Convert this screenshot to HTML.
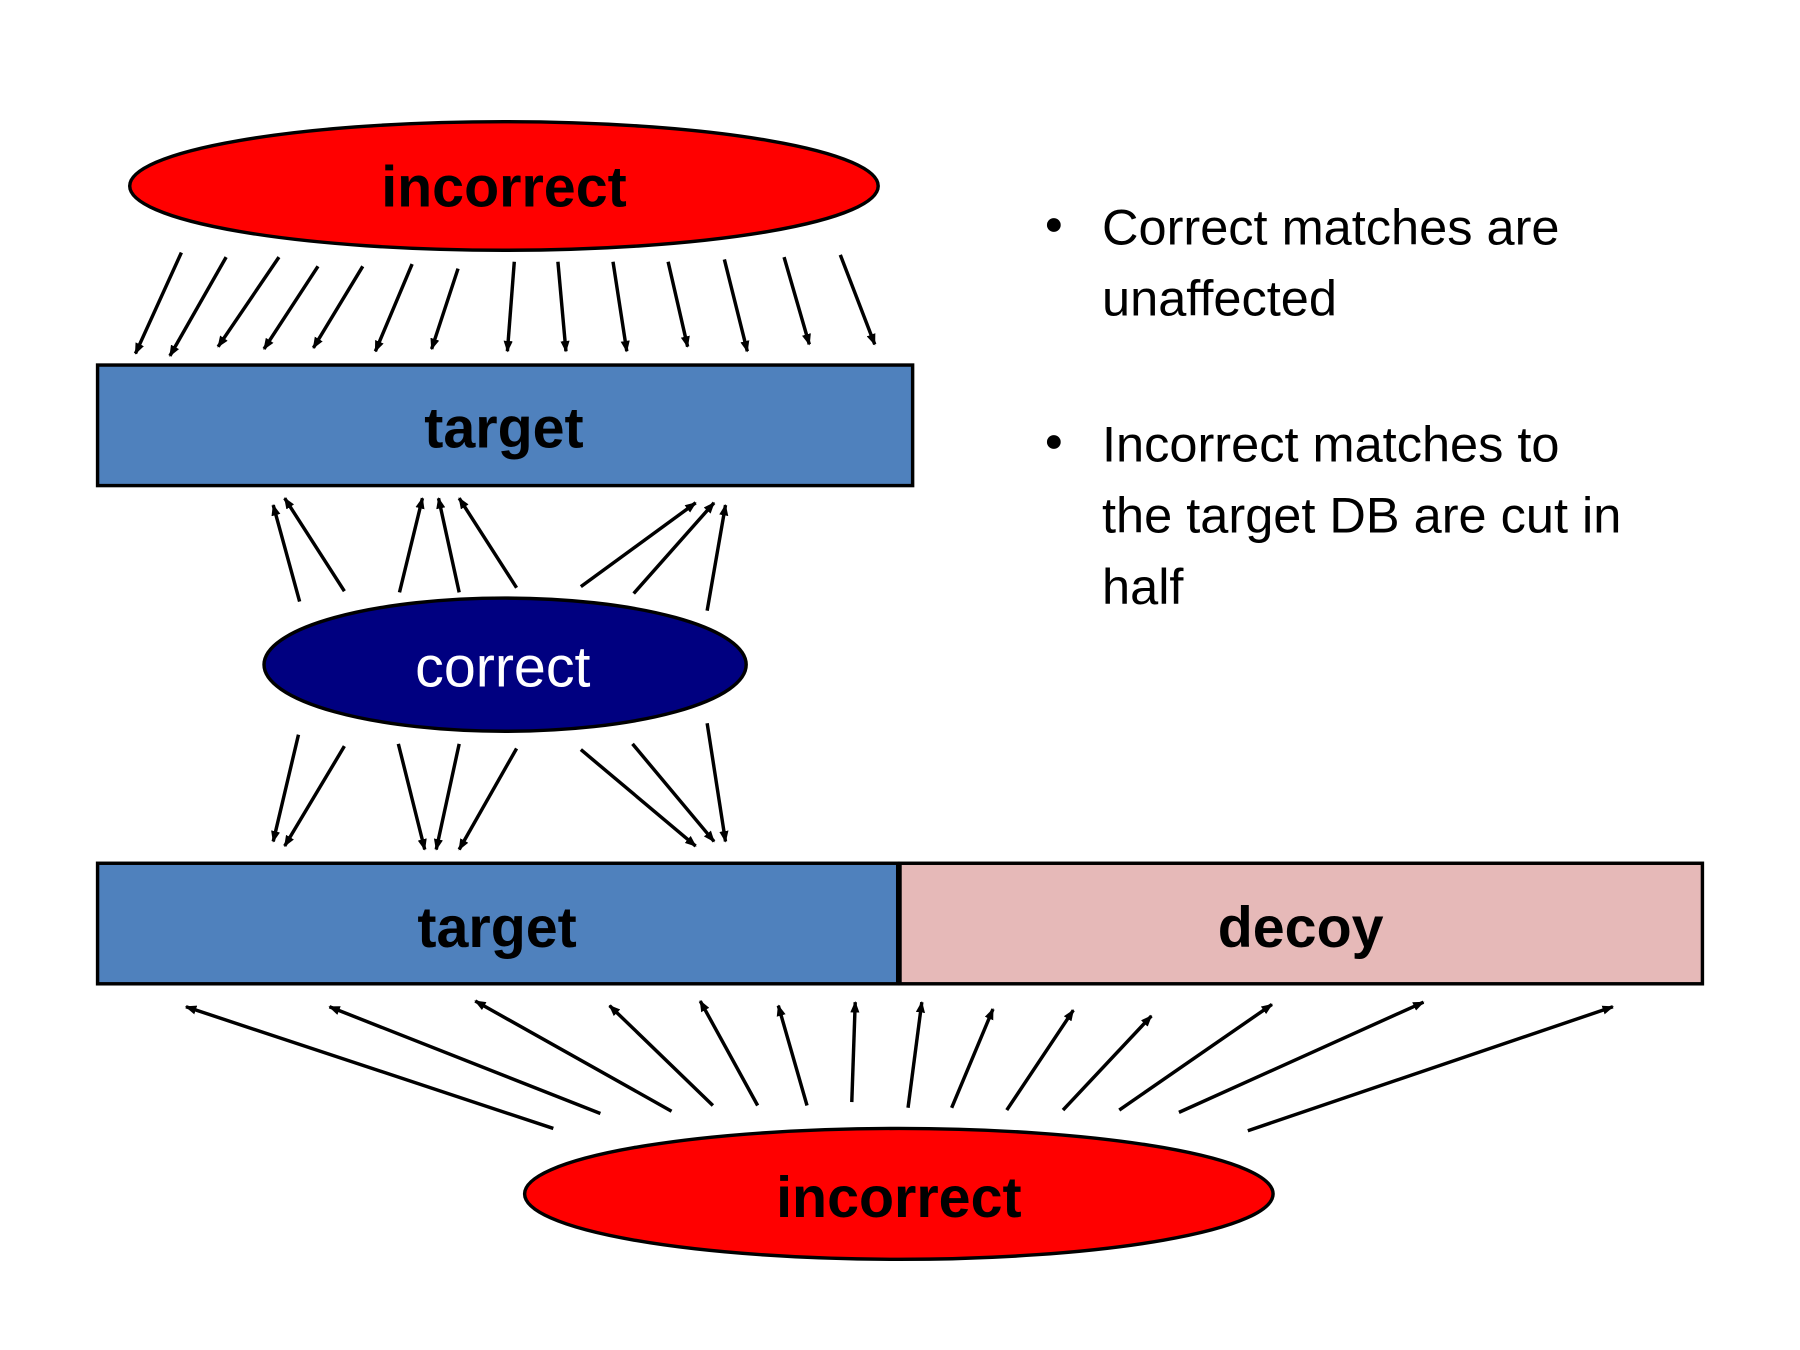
<!DOCTYPE html>
<html><head><meta charset="utf-8"><style>
html,body{margin:0;padding:0;background:#fff;}
svg{display:block;}
</style></head><body>
<svg width="1800" height="1350" viewBox="0 0 1568 1176" xmlns="http://www.w3.org/2000/svg" font-family="Liberation Sans, sans-serif">
<defs>
<marker id="a" markerWidth="10" markerHeight="8" refX="9" refY="4" orient="auto" markerUnits="userSpaceOnUse">
<path d="M0,0 L10,4 L0,8 z" fill="#000"/>
</marker>
</defs>
<rect width="1568" height="1176" fill="#fff"/>
<ellipse cx="439" cy="162" rx="326" ry="56" fill="#ff0000" stroke="#000" stroke-width="3"/>
<text x="439" y="180" font-size="50" font-weight="bold" text-anchor="middle">incorrect</text>
<g stroke="#000" stroke-width="3" marker-end="url(#a)">
<line x1="158" y1="220" x2="118" y2="308"/>
<line x1="197" y1="224" x2="148" y2="310"/>
<line x1="243" y1="224" x2="190" y2="302"/>
<line x1="277" y1="232" x2="230" y2="304"/>
<line x1="316" y1="232" x2="273" y2="303"/>
<line x1="359" y1="230" x2="327" y2="306"/>
<line x1="399" y1="234" x2="376" y2="304"/>
<line x1="448" y1="228" x2="442" y2="306"/>
<line x1="486" y1="228" x2="493" y2="306"/>
<line x1="534" y1="228" x2="546" y2="306"/>
<line x1="582" y1="228" x2="599" y2="302"/>
<line x1="631" y1="226" x2="651" y2="306"/>
<line x1="683" y1="224" x2="705" y2="300"/>
<line x1="732" y1="222" x2="762" y2="300"/>
</g>
<rect x="85" y="318" width="710" height="105" fill="#4f81bd" stroke="#000" stroke-width="3"/>
<text x="439" y="390" font-size="50" font-weight="bold" text-anchor="middle">target</text>
<g stroke="#000" stroke-width="3" marker-end="url(#a)">
<line x1="261" y1="524" x2="238" y2="440"/>
<line x1="300" y1="515" x2="248" y2="434"/>
<line x1="348" y1="516" x2="368" y2="434"/>
<line x1="400" y1="516" x2="382" y2="434"/>
<line x1="450" y1="512" x2="400" y2="434"/>
<line x1="506" y1="511" x2="606" y2="438"/>
<line x1="552" y1="517" x2="622" y2="438"/>
<line x1="616" y1="532" x2="632" y2="440"/>
</g>
<ellipse cx="440" cy="579" rx="210" ry="58" fill="#000080" stroke="#000" stroke-width="3"/>
<text x="438" y="598" font-size="50" fill="#fff" text-anchor="middle">correct</text>
<g stroke="#000" stroke-width="3" marker-end="url(#a)">
<line x1="260" y1="640" x2="238" y2="733"/>
<line x1="300" y1="650" x2="248" y2="737"/>
<line x1="347" y1="648" x2="370" y2="740"/>
<line x1="400" y1="648" x2="380" y2="740"/>
<line x1="450" y1="652" x2="400" y2="740"/>
<line x1="506" y1="653" x2="606" y2="737"/>
<line x1="551" y1="648" x2="622" y2="733"/>
<line x1="616" y1="630" x2="632" y2="733"/>
</g>
<rect x="85" y="752" width="697" height="105" fill="#4f81bd" stroke="#000" stroke-width="3"/>
<rect x="784" y="752" width="699" height="105" fill="#e6b9b8" stroke="#000" stroke-width="3"/>
<text x="433" y="825" font-size="50" font-weight="bold" text-anchor="middle">target</text>
<text x="1133" y="825" font-size="50" font-weight="bold" text-anchor="middle">decoy</text>
<g stroke="#000" stroke-width="3" marker-end="url(#a)">
<line x1="482" y1="983" x2="162" y2="877"/>
<line x1="523" y1="970" x2="287" y2="877"/>
<line x1="585" y1="968" x2="414" y2="872"/>
<line x1="621" y1="963" x2="531" y2="876"/>
<line x1="660" y1="963" x2="610" y2="872"/>
<line x1="703" y1="963" x2="678" y2="876"/>
<line x1="742" y1="960" x2="745" y2="873"/>
<line x1="791" y1="965" x2="803" y2="873"/>
<line x1="829" y1="965" x2="865" y2="879"/>
<line x1="877" y1="967" x2="935" y2="880"/>
<line x1="926" y1="967" x2="1003" y2="885"/>
<line x1="975" y1="967" x2="1108" y2="875"/>
<line x1="1027" y1="969" x2="1240" y2="873"/>
<line x1="1087" y1="985" x2="1405" y2="877"/>
</g>
<ellipse cx="783" cy="1040" rx="326" ry="57" fill="#ff0000" stroke="#000" stroke-width="3"/>
<text x="783" y="1060" font-size="50" font-weight="bold" text-anchor="middle">incorrect</text>
<g font-size="44" fill="#000">
<circle cx="918" cy="196" r="6"/>
<text x="960" y="213">Correct matches are</text>
<text x="960" y="275">unaffected</text>
<circle cx="918" cy="385" r="6"/>
<text x="960" y="402">Incorrect matches to</text>
<text x="960" y="464">the target DB are cut in</text>
<text x="960" y="526">half</text>
</g>
</svg>
</body></html>
